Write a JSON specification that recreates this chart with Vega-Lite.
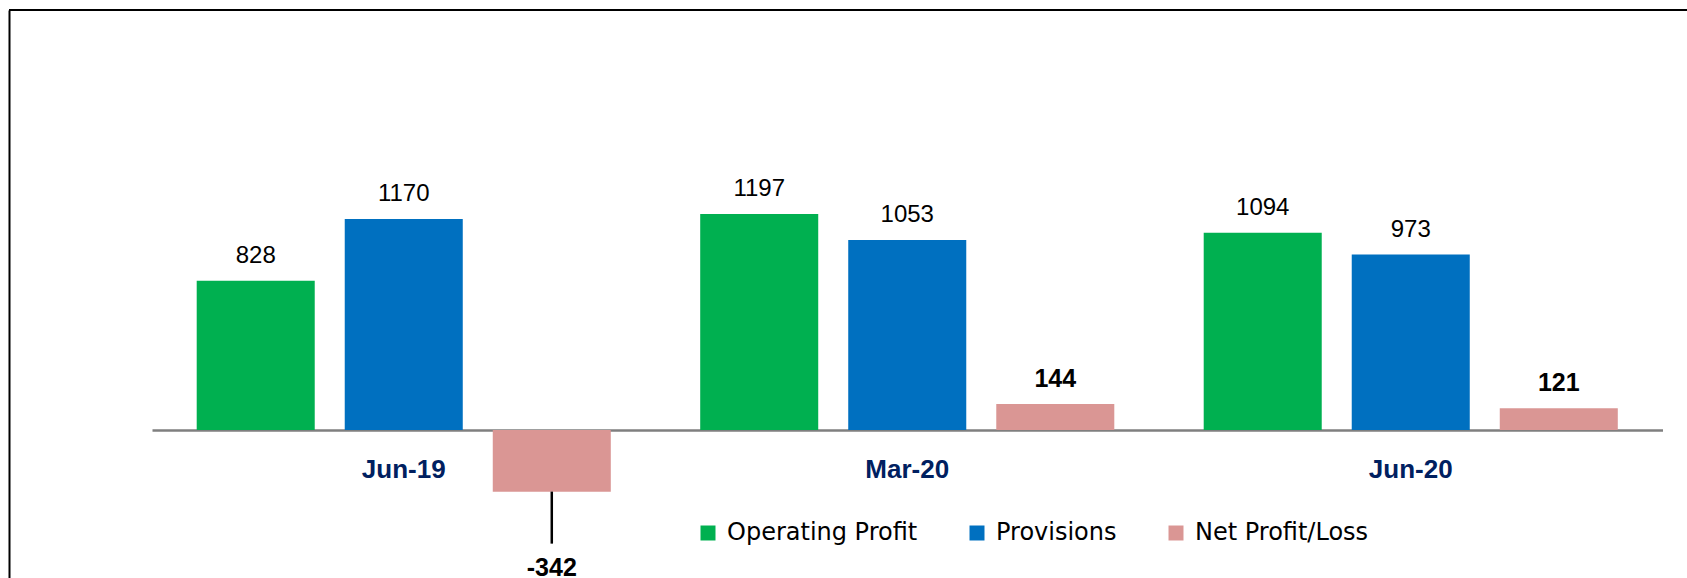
{
  "$schema": "https://vega.github.io/schema/vega-lite/v6.json",
  "width": 1678,
  "height": 568,
  "autosize": {"type": "none"},
  "padding": {"left": 9, "top": 10, "right": 0, "bottom": 0},
  "background": "white",
  "config": {"view": {"stroke": null}},
  "data": {
    "values": [
      {"period": "Jun-19", "series": "Operating Profit", "value": 828},
      {"period": "Jun-19", "series": "Provisions", "value": 1170},
      {"period": "Jun-19", "series": "Net Profit/Loss", "value": -342},
      {"period": "Mar-20", "series": "Operating Profit", "value": 1197},
      {"period": "Mar-20", "series": "Provisions", "value": 1053},
      {"period": "Mar-20", "series": "Net Profit/Loss", "value": 144},
      {"period": "Jun-20", "series": "Operating Profit", "value": 1094},
      {"period": "Jun-20", "series": "Provisions", "value": 973},
      {"period": "Jun-20", "series": "Net Profit/Loss", "value": 121}
    ]
  },
  "encoding": {
    "x": {
      "field": "period",
      "type": "nominal",
      "sort": ["Jun-19", "Mar-20", "Jun-20"],
      "scale": {"range": [143, 1653.5], "paddingInner": 0, "paddingOuter": 0},
      "axis": {
        "orient": "bottom",
        "offset": -148,
        "title": null,
        "ticks": false,
        "grid": false,
        "domainColor": "#7f7f7f",
        "domainWidth": 2.5,
        "labelAngle": 0,
        "labelPadding": 26,
        "labelFont": "Liberation Sans",
        "labelFontSize": 26,
        "labelFontWeight": "bold",
        "labelColor": "#002060"
      }
    },
    "xOffset": {
      "field": "series",
      "type": "nominal",
      "sort": ["Operating Profit", "Provisions", "Net Profit/Loss"],
      "scale": {"paddingInner": 0.2027, "paddingOuter": 0.302}
    },
    "y": {
      "field": "value",
      "type": "quantitative",
      "scale": {"domain": [-821, 2329], "nice": false, "zero": false},
      "axis": {
        "orient": "left",
        "title": null,
        "labels": false,
        "ticks": false,
        "grid": false,
        "domain": true,
        "domainColor": "black",
        "domainWidth": 2
      }
    }
  },
  "layer": [
    {
      "mark": {"type": "rule", "color": "black", "strokeWidth": 2},
      "encoding": {"x": null, "xOffset": null, "y": {"datum": 2329, "type": "quantitative"}}
    },
    {
      "mark": {"type": "bar"},
      "encoding": {
        "color": {
          "field": "series",
          "type": "nominal",
          "sort": ["Operating Profit", "Provisions", "Net Profit/Loss"],
          "scale": {
            "domain": ["Operating Profit", "Provisions", "Net Profit/Loss"],
            "range": ["#00B050", "#0070C0", "#DA9694"]
          },
          "legend": {
            "title": null,
            "orient": "none",
            "legendX": 687,
            "legendY": 511,
            "direction": "horizontal",
            "padding": 0,
            "symbolType": "square",
            "symbolSize": 225,
            "symbolStrokeWidth": 0,
            "symbolOpacity": 1,
            "labelFont": "DejaVu Sans",
            "labelFontSize": 24,
            "labelColor": "black",
            "labelLimit": 0,
            "labelOffset": 7,
            "columnPadding": 47
          }
        }
      }
    },
    {
      "transform": [{"filter": "datum.series !== 'Net Profit/Loss'"}],
      "mark": {"type": "text", "baseline": "alphabetic", "dy": -18, "font": "Liberation Sans", "fontSize": 24, "color": "black"},
      "encoding": {"text": {"field": "value", "type": "nominal"}}
    },
    {
      "transform": [{"filter": "datum.series === 'Net Profit/Loss' && datum.value >= 0"}],
      "mark": {"type": "text", "baseline": "alphabetic", "dy": -17, "font": "Liberation Sans", "fontSize": 25, "fontWeight": "bold", "color": "black"},
      "encoding": {"text": {"field": "value", "type": "nominal"}}
    },
    {
      "transform": [{"filter": "datum.value < 0"}],
      "mark": {"type": "rule", "color": "black", "strokeWidth": 2.5, "y2Offset": 52},
      "encoding": {"y2": {"field": "value"}}
    },
    {
      "transform": [{"filter": "datum.value < 0"}],
      "mark": {"type": "text", "baseline": "alphabetic", "dy": 84, "font": "Liberation Sans", "fontSize": 25, "fontWeight": "bold", "color": "black"},
      "encoding": {"text": {"field": "value", "type": "nominal"}}
    }
  ]
}
